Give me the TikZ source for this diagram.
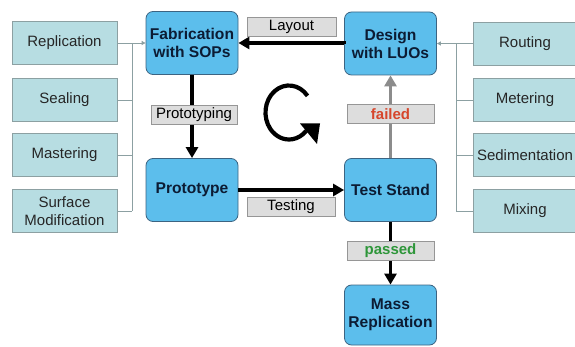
\documentclass[tikz,border=0pt]{standalone}
\usepackage{fontspec}
\setmainfont{Liberation Sans}
\usetikzlibrary{arrows.meta}
\definecolor{stepblue}{RGB}{92,190,236}
\definecolor{stepedge}{RGB}{60,100,130}
\definecolor{steptext}{RGB}{12,28,52}
\definecolor{subfill}{RGB}{183,221,226}
\definecolor{subedge}{RGB}{140,160,162}
\definecolor{tagfill}{RGB}{221,221,221}
\definecolor{tagedge}{RGB}{150,150,150}
\definecolor{failred}{RGB}{214,70,44}
\definecolor{passgreen}{RGB}{46,150,58}
\tikzset{
  stepbox/.style={draw=stepedge,fill=stepblue,rounded corners=7pt,line width=0.8pt,
    minimum width=92pt,minimum height=63pt,align=center,text=steptext,
    font=\fontsize{15.6}{18}\selectfont\bfseries},
  subbox/.style={draw=subedge,fill=subfill,line width=0.9pt,minimum width=105pt,
    minimum height=43pt,align=center,text=black!85,font=\fontsize{15}{18}\selectfont},
  tag/.style={draw=tagedge,fill=tagfill,line width=0.7pt,minimum width=87pt,
    minimum height=19pt,inner sep=1pt,font=\fontsize{15}{17}\selectfont},
  bigarrow/.style={line width=3.5pt,-{Triangle[length=11pt,width=12pt]}},
  thinline/.style={draw=subedge,line width=0.8pt},
  smallarrow/.style={line width=0.8pt,-{Triangle[length=4pt,width=4pt]}}
}
\begin{document}
\begin{tikzpicture}[x=1pt,y=1pt]
  \useasboundingbox (0,0) rectangle (575,-347);
  \clip (0,0) rectangle (575,-347);
  % MAIN : loop of steps
  \node[stepbox] (fab) at (192,-43) {Fabrication\\with SOPs};
  \node[stepbox] (proto) at (192,-190) {Prototype};
  \node[stepbox] (design) at (390.5,-43.5) {Design\\with LUOs};
  \node[stepbox] (test) at (390.5,-190) {Test Stand};
  \node[stepbox,minimum height=60pt] (mass) at (390.5,-315) {Mass\\Replication};
  % LEFT : SOPs
  \node[subbox] (repl) at (64.5,-43) {Replication};
  \node[subbox] (seal) at (64.5,-100) {Sealing};
  \node[subbox] (mast) at (64.5,-155) {Mastering};
  \node[subbox] (surf) at (64.5,-211) {Surface\\Modification};
  \coordinate (lbus) at (132,-43);
  % RIGHT : LUOs
  \node[subbox,minimum width=104pt] (rout) at (525,-43.5) {Routing};
  \node[subbox,minimum width=104pt] (meter) at (525,-100) {Metering};
  \node[subbox,minimum width=104pt] (sedi) at (525,-155) {Sedimentation};
  \node[subbox,minimum width=104pt] (mix) at (525,-211) {Mixing};
  \coordinate (rbus) at (456,-43.5);
  % bus lines
  \foreach \b in {seal,mast,surf}
    \draw[thinline] (\b.east) -- (\b.east -| lbus);
  \draw[thinline] (lbus) -- (lbus |- surf.east);
  \draw[thinline,smallarrow] (repl.east) -- (fab.west);
  \foreach \b in {meter,sedi,mix}
    \draw[thinline] (\b.west) -- (\b.west -| rbus);
  \draw[thinline] (rbus) -- (rbus |- mix.west);
  \draw[thinline,smallarrow] (rout.west) -- (design.east);
  % thick arrows
  \draw[bigarrow] (design.west) -- (fab.east -| design.west) -- (fab.east);
  \draw[bigarrow] (fab.south) -- (proto.north);
  \draw[bigarrow] (proto.east) -- (test.west);
  \draw[bigarrow,draw=black!45] (test.north) -- (design.south);
  \draw[bigarrow] (test.south) -- (mass.north);
  % labels
  \node[tag,minimum width=89pt] (layout) at (291.5,-27) {Layout};
  \node[tag,minimum width=86pt] (prottag) at (194,-115) {Prototyping};
  \node[tag,minimum width=88pt] (testing) at (291,-206.5) {Testing};
  \node[tag,text=failred,font=\fontsize{15}{17}\selectfont\bfseries] (failed) at (390.5,-114) {failed};
  \node[tag,text=passgreen,font=\fontsize{15}{17}\selectfont\bfseries] (passed) at (390.5,-251) {passed};
  % cycle symbol
  \coordinate (cyc) at (289,-112.5);
  \draw[line width=4.2pt]
    (cyc) ++(38:23.5 and 27) arc[start angle=38,end angle=317,x radius=23.5,y radius=27];
  \fill (cyc) ++(11,-11) -- ++(20,0) -- ++(-3,-20.5) -- cycle;
\end{tikzpicture}
\end{document}
